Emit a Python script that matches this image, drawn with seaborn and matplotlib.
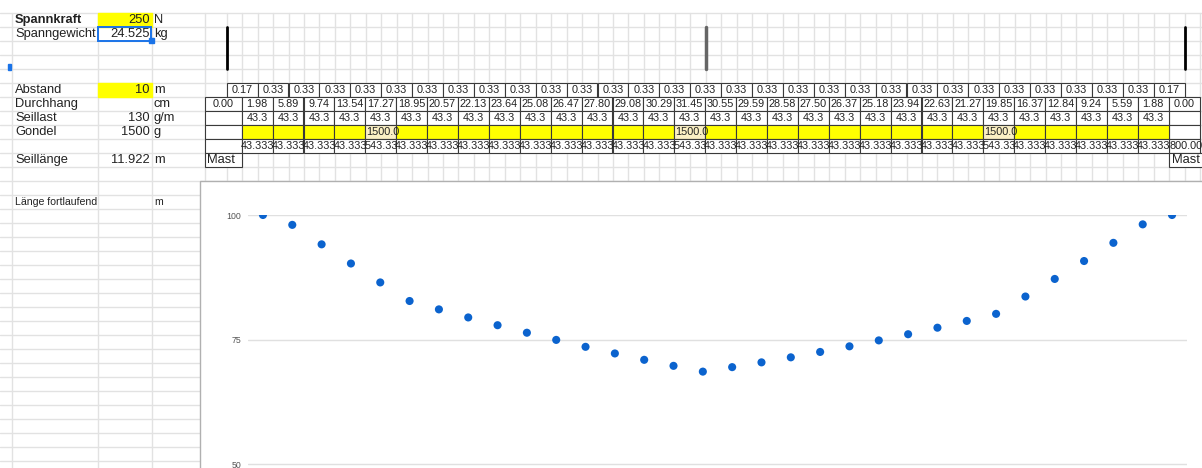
import matplotlib
matplotlib.use("Agg")
import matplotlib.pyplot as plt
from matplotlib.patches import Rectangle
import seaborn as sns
import pandas as pd

sns.set_style("white")
plt.rcParams['font.family'] = ['Liberation Sans', 'DejaVu Sans']

# left block: label, value, unit
labels = ["Spannkraft", "Spanngewicht", "Abstand", "Durchhang", "Seillast", "Gondel", "Seillänge"]
values = ["250", "24.525", "10", "", "130", "1500", "11.922"]
units = ["N", "kg", "m", "cm", "g/m", "g", "m"]
label_rows = [0, 1, 5, 6, 7, 8, 10]

# table rows
abstand = [0.17, 0.33, 0.33, 0.33, 0.33, 0.33, 0.33, 0.33, 0.33, 0.33, 0.33,
           0.33, 0.33, 0.33, 0.33, 0.33, 0.33, 0.33, 0.33, 0.33, 0.33,
           0.33, 0.33, 0.33, 0.33, 0.33, 0.33, 0.33, 0.33, 0.33, 0.17]
durchhang = [0.00, 1.98, 5.89, 9.74, 13.54, 17.27, 18.95, 20.57, 22.13, 23.64, 25.08,
             26.47, 27.80, 29.08, 30.29, 31.45, 30.55, 29.59, 28.58, 27.50, 26.37,
             25.18, 23.94, 22.63, 21.27, 19.85, 16.37, 12.84, 9.24, 5.59, 1.88, 0.00]
seillast = [43.3] * 30
gondel_cells = [5, 15, 25]
gondel_text = "1500.0"
summe = ["43.333", "43.333", "43.333", "43.333", "543.33", "43.333", "43.333", "43.333",
         "43.333", "43.333", "43.333", "43.333", "43.333", "43.333", "543.33", "43.333",
         "43.333", "43.333", "43.333", "43.333", "43.333", "43.333", "43.333", "43.333",
         "543.33", "43.333", "43.333", "43.333", "43.333", "43.333"]
summe_end = "800.00"

# chart: height = 100 - Durchhang
chart = pd.DataFrame({"punkt": range(len(durchhang)),
                      "hoehe": [100 - d for d in durchhang]})
y_ticks = [50, 75, 100]

W, H = 1202, 468
fig = plt.figure(figsize=(W / 100, H / 100), dpi=100)
bg = fig.add_axes([0, 0, 1, 1])
bg.set_xlim(0, W)
bg.set_ylim(H, 0)
bg.axis("off")

ROW0, RH = 12.5, 14.0
CW = 30.9
X0 = 241.7


def row_y(r):
    return ROW0 + r * RH


def cell_x(j):
    if j == 0:
        return 204.5, X0
    left = X0 + (j - 1) * CW
    return left, left + CW


grid = "#e2e2e2"
border = "#3a3a3a"
txt = "#222222"

# sheet grid
for r in range(33):
    y = row_y(r)
    bg.plot([0, W if y < 181 else 200], [y, y], color=grid, lw=1, zorder=1)
vx = [12, 98, 152, 204.5] + [226.7 + k * CW / 2 for k in range(64)]
for x in vx:
    bg.plot([x, x], [12.5, H if x < 200 else 181], color=grid, lw=1, zorder=1)

# yellow input cells and selection
for r in [0, 5]:
    bg.add_patch(Rectangle((98, row_y(r)), 54, RH, color="#ffff00", zorder=2))
bg.add_patch(Rectangle((98, row_y(1)), 53, RH, fill=False, ec="#1a73e8", lw=1.4, zorder=4))
bg.add_patch(Rectangle((148.5, row_y(2) - 3), 5, 5, color="#1a73e8", zorder=5))
bg.add_patch(Rectangle((8, 64), 3, 6, color="#1a73e8", zorder=5))

lfs = 9.3
for lab, val, unit, r in zip(labels, values, units, label_rows):
    yc = row_y(r) + RH / 2 + 0.5
    bg.text(15, yc, lab, fontsize=lfs, color=txt, va="center",
            fontweight="bold" if lab == "Spannkraft" else "normal", zorder=6)
    bg.text(150, yc, val, fontsize=lfs, color=txt, va="center", ha="right", zorder=6)
    bg.text(154, yc, unit, fontsize=lfs, color=txt, va="center", zorder=6)
yc = row_y(13) + RH / 2 + 0.5
bg.text(15, yc, "Länge fortlaufend", fontsize=7.6, color=txt, va="center", zorder=6)
bg.text(154, yc, "m", fontsize=7.6, color=txt, va="center", zorder=6)

# mast markers
bg.plot([226.7, 226.7], [27, 69], color="black", lw=2, zorder=3)
bg.plot([705.5, 705.5], [27, 69], color="#666666", lw=2.5, zorder=3)
bg.plot([1184.5, 1184.5], [27, 69], color="black", lw=2, zorder=3)

fs = 7.8


def box(x0, x1, r, fc="white"):
    bg.add_patch(Rectangle((x0, row_y(r)), x1 - x0, RH, fc=fc, ec=border, lw=0.8, zorder=3))


# Abstand row
for k, a in enumerate(abstand):
    x0 = 226.7 + k * CW
    box(x0, x0 + CW, 5)
    bg.text(x0 + CW / 2, row_y(5) + RH / 2 + 0.5, f"{a:.2f}", fontsize=fs, color=txt,
            ha="center", va="center", zorder=6)

# Durchhang row
for j, d in enumerate(durchhang):
    x0, x1 = cell_x(j)
    box(x0, x1, 6)
    bg.text((x0 + x1) / 2, row_y(6) + RH / 2 + 0.5, f"{d:.2f}", fontsize=fs, color=txt,
            ha="center", va="center", zorder=6)

# Seillast, Gondel, Summe rows
n = len(durchhang)
for r in [7, 8, 9]:
    box(*cell_x(0), r)
    box(*cell_x(n - 1), r)
for j, s in enumerate(seillast, start=1):
    x0, x1 = cell_x(j)
    box(x0, x1, 7)
    bg.text((x0 + x1) / 2, row_y(7) + RH / 2 + 0.5, f"{s:.1f}", fontsize=fs, color=txt,
            ha="center", va="center", zorder=6)
for j in range(1, n - 1):
    x0, x1 = cell_x(j)
    if j in gondel_cells:
        box(x0, x1, 8, fc="#fbf0c4")
        bg.text(x0 + 0.5, row_y(8) + RH / 2 + 0.5, gondel_text, fontsize=fs, color=txt,
                va="center", zorder=6)
    else:
        box(x0, x1, 8, fc="#ffff00")
for j, s in enumerate(summe, start=1):
    x0, x1 = cell_x(j)
    box(x0, x1, 9)
    bg.text(x1 + 1.5, row_y(9) + RH / 2 + 0.5, s, fontsize=fs, color=txt,
            ha="right", va="center", zorder=6)
bg.text(cell_x(n - 1)[0] + 1, row_y(9) + RH / 2 + 0.5, summe_end, fontsize=fs, color=txt,
        va="center", zorder=6)

# Mast cells
box(*cell_x(0), 10)
bg.add_patch(Rectangle((cell_x(n - 1)[0], row_y(10)), 40, RH, fc="white", ec=border,
                       lw=0.8, zorder=3))
bg.text(207, row_y(10) + RH / 2 + 0.5, "Mast", fontsize=9.3, color=txt, va="center", zorder=6)
bg.text(cell_x(n - 1)[0] + 3, row_y(10) + RH / 2 + 0.5, "Mast", fontsize=9.3, color=txt,
        va="center", zorder=6)

# chart frame
bg.add_patch(Rectangle((200, 181), W, H, fc="white", ec="#b0b0b0", lw=1, zorder=7))

ax = fig.add_axes([248 / W, 0, (1187 - 248) / W, (H - 215) / H])
ax.set_zorder(10)
ax.patch.set_alpha(0)
sns.scatterplot(data=chart, x="punkt", y="hoehe", ax=ax, color="#0b63ce", s=34,
                edgecolor="none", legend=False)
ax.set_xlim(-0.51, 31.51)
ax.set_ylim(100 - (H - 215) / 4.98, 100)
ax.set_yticks(y_ticks)
ax.set_xticks([])
ax.grid(axis="y", color="#e0e0e0", lw=1)
ax.set_axisbelow(True)
ax.tick_params(axis="y", length=0, labelsize=6.3, labelcolor="#555555", pad=5)
ax.set_xlabel("")
ax.set_ylabel("")
sns.despine(ax=ax, left=True, bottom=True)

fig.savefig("out.png", dpi=100)
